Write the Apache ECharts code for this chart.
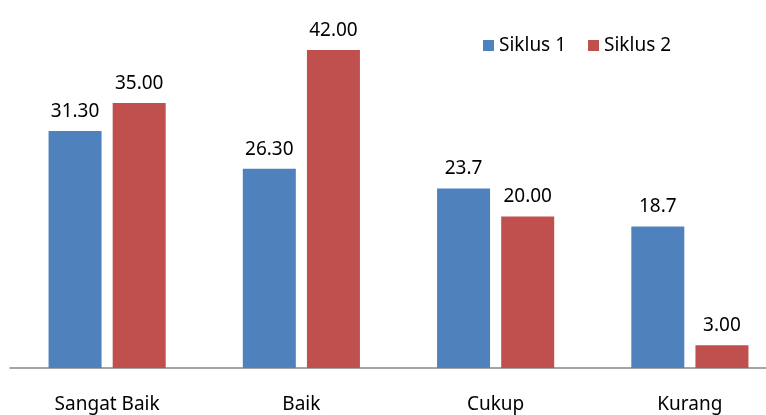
<!DOCTYPE html>
<html>
<head>
<meta charset="utf-8">
<script src="https://cdn.jsdelivr.net/npm/echarts@6/dist/echarts.min.js"></script>
<style>
  html, body { margin: 0; padding: 0; background: #fff; overflow: hidden; }
  /* a bit wider than the window so the axis runs off the right edge */
  #main { width: 787px; height: 415px; }
</style>
</head>
<body>
<div id="main"></div>
<script>
var categories = ["Sangat Baik", "Baik", "Cukup", "Kurang"];
var siklus1 = [31.3, 26.3, 23.7, 18.7];
var siklus2 = [35, 42, 20, 3];
// label text as written on the chart
var siklus1Labels = ["31.30", "26.30", "23.7", "18.7"];
var siklus2Labels = ["35.00", "42.00", "20.00", "3.00"];

var myChart = echarts.init(document.getElementById("main"));
var font = "'Noto Sans', sans-serif";

var option = {
  animation: false,
  color: ["#4F81BD", "#C0504D"],
  legend: {
    data: ["Siklus 1", "Siklus 2"],
    left: 478,
    top: 31,
    icon: "rect",
    itemWidth: 11,
    itemHeight: 11,
    itemGap: 22,
    textStyle: { fontFamily: font, fontSize: 19, color: "#000" }
  },
  grid: {
    left: 10,
    right: 0,
    top: 0,
    bottom: 47
  },
  xAxis: {
    type: "category",
    data: categories,
    axisLine: { lineStyle: { color: "#868686", width: 1.5 } },
    axisTick: { show: false },
    axisLabel: {
      margin: 27,
      fontFamily: font,
      fontSize: 19,
      color: "#000"
    }
  },
  yAxis: {
    type: "value",
    min: 0,
    max: 48.6,
    show: false,
    splitLine: { show: false }
  },
  series: [
    {
      name: "Siklus 1",
      type: "bar",
      data: siklus1,
      barWidth: 53,
      barGap: "21%",
      label: {
        show: true,
        position: "top",
        distance: 10,
        fontFamily: font,
        fontSize: 19,
        color: "#000",
        formatter: function (p) { return siklus1Labels[p.dataIndex]; }
      }
    },
    {
      name: "Siklus 2",
      type: "bar",
      data: siklus2,
      barWidth: 53,
      barGap: "21%",
      label: {
        show: true,
        position: "top",
        distance: 10,
        fontFamily: font,
        fontSize: 19,
        color: "#000",
        formatter: function (p) { return siklus2Labels[p.dataIndex]; }
      }
    }
  ]
};

myChart.setOption(option);
</script>
</body>
</html>
